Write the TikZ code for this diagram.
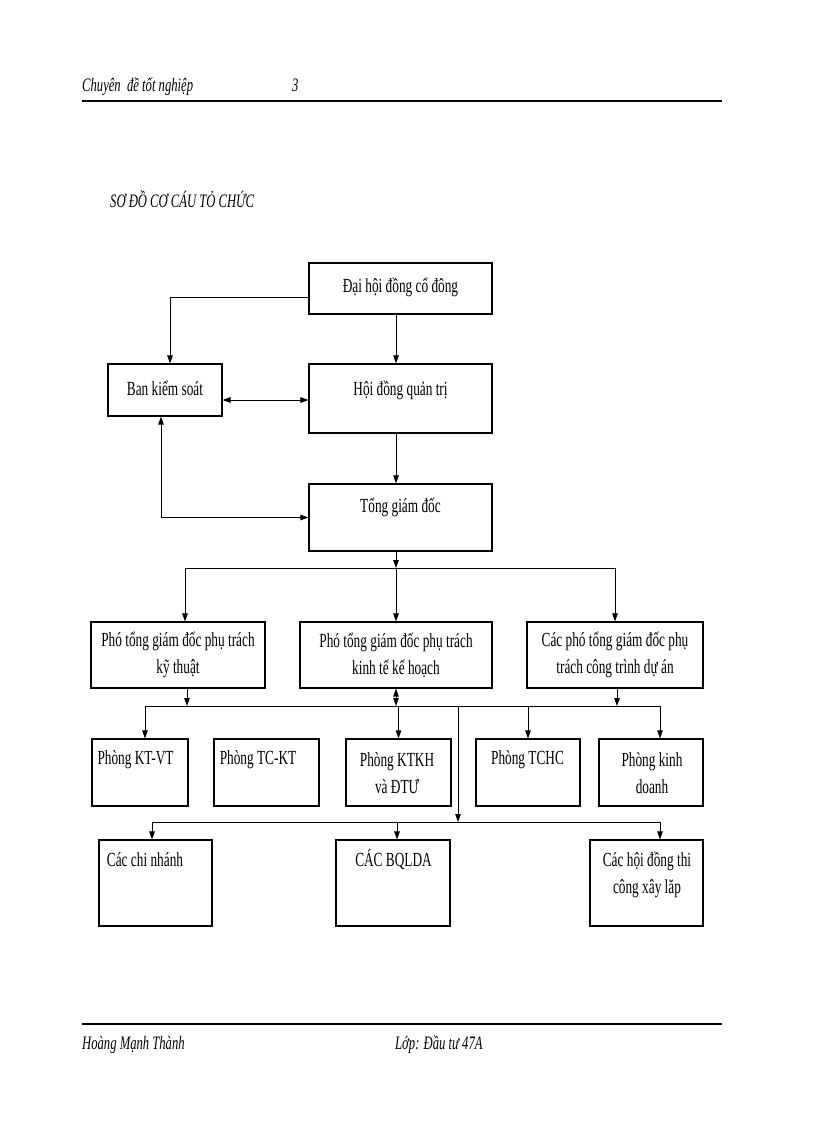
\documentclass[tikz,border=0pt]{standalone}
\usepackage{fontspec}
\setmainfont{Liberation Serif}[FakeStretch=0.665]
\usetikzlibrary{arrows.meta,calc}
\begin{document}
\begin{tikzpicture}[x=1pt,y=-1pt,
  box/.style={draw, line width=1.1pt, inner sep=0pt},
  lbl/.style={font=\fontsize{20}{27}\selectfont, align=center, inner sep=0pt},
  hdr/.style={font=\fontsize{19}{24}\selectfont\itshape, inner sep=0pt, anchor=base west},
  conn/.style={line width=0.9pt},
  arr/.style={conn, -{Triangle[length=8pt,width=5.5pt]}},
  darr/.style={conn, {Triangle[length=8pt,width=5.5pt]}-{Triangle[length=8pt,width=5.5pt]}}]
\useasboundingbox (0,0) rectangle (816,1123);

% header and footer
\node[hdr] (hd) at (82,92) {Chuyên\ \ đề tốt nghiệp};
\node[hdr] (pg) at (292,92) {3};
\draw[line width=2.5pt] (82,101) -- (722,101);
\node[hdr] (title) at (110,208) {SƠ ĐỒ CƠ CÁU TỎ CHỨC};
\draw[line width=2.5pt] (82,1024) -- (722,1024);
\node[hdr] (ft1) at (82,1049) {Hoàng Mạnh Thành};
\node[hdr] (ft2) at (395,1049) {Lớp: Đầu tư 47A};

% boxes
\node[box, minimum width=183pt, minimum height=51pt] (dh) at (400.5,288.5) {};
\node[box, minimum width=114pt, minimum height=52pt] (bks) at (165,390) {};
\node[box, minimum width=183pt, minimum height=69pt] (hq) at (400.5,398.5) {};
\node[box, minimum width=183pt, minimum height=67pt] (tg) at (400.5,517.5) {};
\node[box, minimum width=174pt, minimum height=66pt] (p1) at (178,655) {};
\node[box, minimum width=192pt, minimum height=66pt] (p2) at (396,655) {};
\node[box, minimum width=176pt, minimum height=66pt] (p3) at (615,655) {};
\node[box, minimum width=96pt, minimum height=67pt] (r1) at (140,772.5) {};
\node[box, minimum width=105pt, minimum height=67pt] (r2) at (266.5,772.5) {};
\node[box, minimum width=105pt, minimum height=67pt] (r3) at (398.5,772.5) {};
\node[box, minimum width=104pt, minimum height=67pt] (r4) at (528,772.5) {};
\node[box, minimum width=104pt, minimum height=67pt] (r5) at (651,772.5) {};
\node[box, minimum width=113pt, minimum height=86pt] (s1) at (155.5,883) {};
\node[box, minimum width=114pt, minimum height=86pt] (s2) at (393,883) {};
\node[box, minimum width=113pt, minimum height=86pt] (s3) at (646.5,883) {};

% labels
\node[lbl] (tdh) at (400.5,287) {Đại hội đồng cổ đông};
\node[lbl] (tbks) at (165,388) {Ban kiểm soát};
\node[lbl] (thq) at (400.5,390) {Hội đồng quản trị};
\node[lbl] (ttg) at (400.5,507) {Tổng giám đốc};
\node[lbl] (tp1) at (178,655) {Phó tổng giám đốc phụ trách\\kỹ thuật};
\node[lbl] (tp2) at (396,655) {Phó tổng giám đốc phụ trách\\kinh tế kế hoạch};
\node[lbl] (tp3) at (615,655) {Các phó tổng giám đốc phụ\\trách công trình dự án};
\node[lbl] (tr1) at (135.5,760) {Phòng KT-VT};
\node[lbl] (tr2) at (258,760) {Phòng TC-KT};
\node[lbl] (tr3) at (397,773) {Phòng KTKH\\và ĐTƯ};
\node[lbl] (tr4) at (527.5,760) {Phòng TCHC};
\node[lbl] (tr5) at (652,773) {Phòng kinh\\doanh};
\node[lbl] (ts1) at (145,860) {Các chi nhánh};
\node[lbl] (ts2) at (393.5,860) {CÁC BQLDA};
\node[lbl] (ts3) at (647,875) {Các hội đồng thi\\công xây lăp};

% connectors, top part
\draw[arr] ([yshift=-9pt]dh.west) -| ([xshift=5pt]bks.north);
\draw[arr] ([xshift=-4.5pt]dh.south) -- ([xshift=-4.5pt]hq.north);
\draw[darr] ([yshift=-10pt]bks.east) -- ([yshift=-10pt]bks.east -| hq.west);
\draw[darr] ([xshift=-4pt]bks.south) |- (tg.west);
\draw[arr] ([xshift=-4.5pt]hq.south) -- ([xshift=-4.5pt]tg.north);

% bus 1
\coordinate (b1) at (396,568);
\draw[arr] (tg.south -| b1) -- (b1);
\draw[arr] (b1) -| ([xshift=7pt]p1.north);
\draw[arr] (b1) -| (p3.north);
\draw[arr] (b1) -- (p2.north);

% bus 2
\coordinate (b2) at (397,706);
\draw[arr] ([xshift=9pt]p1.south) -- ([xshift=9pt]p1.south |- b2);
\draw[darr] (p2.south) -- (p2.south |- b2);
\draw[arr] ([xshift=2pt]p3.south) -- ([xshift=2pt]p3.south |- b2);
\draw[conn] ([xshift=5pt]r1.north |- b2) -- ([xshift=9pt]r5.north |- b2);
\draw[arr] ([xshift=5pt]r1.north |- b2) -- ([xshift=5pt]r1.north);
\draw[arr] (r3.north |- b2) -- (r3.north);
\draw[arr] (r4.north |- b2) -- (r4.north);
\draw[arr] ([xshift=9pt]r5.north |- b2) -- ([xshift=9pt]r5.north);

% bus 3
\coordinate (b3) at (458,822);
\draw[arr] (b3 |- b2) -- (b3);
\draw[conn] ([xshift=-3.5pt]s1.north |- b3) -- ([xshift=13.5pt]s3.north |- b3);
\draw[arr] ([xshift=-3.5pt]s1.north |- b3) -- ([xshift=-3.5pt]s1.north);
\draw[arr] ([xshift=4pt]s2.north |- b3) -- ([xshift=4pt]s2.north);
\draw[arr] ([xshift=13.5pt]s3.north |- b3) -- ([xshift=13.5pt]s3.north);
\end{tikzpicture}
\end{document}
